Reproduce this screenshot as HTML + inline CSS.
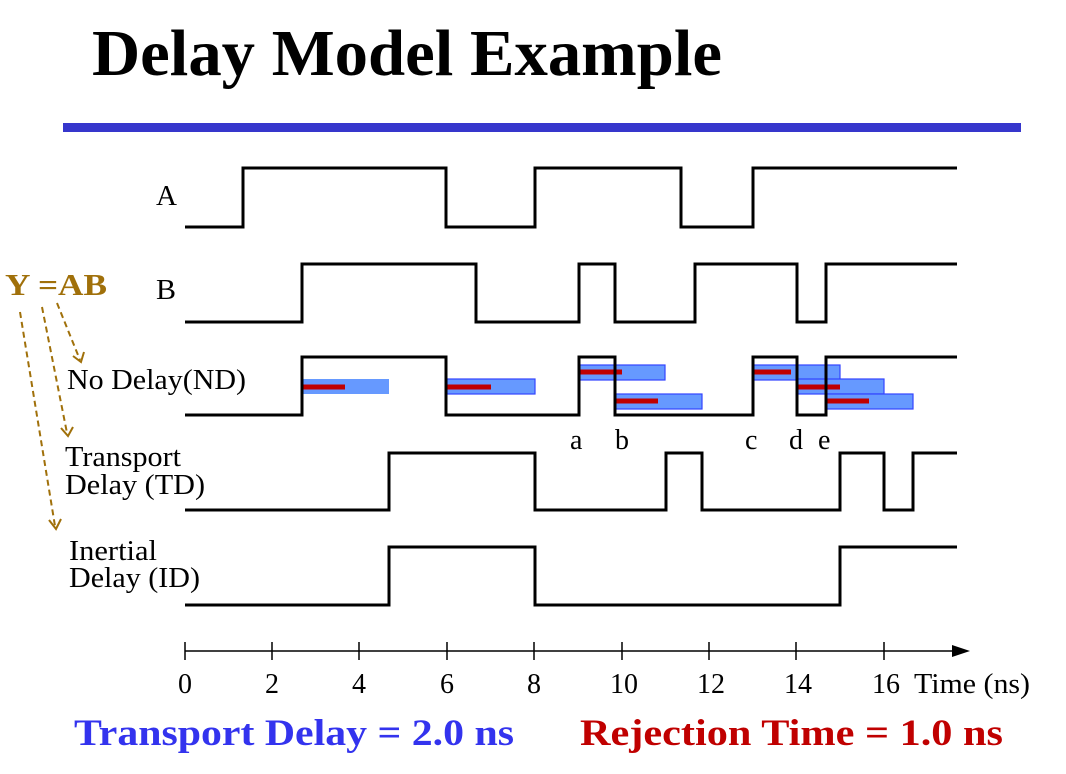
<!DOCTYPE html>
<html><head><meta charset="utf-8"><style>body{margin:0;background:#fff}svg{display:block}</style></head><body>
<svg width="1066" height="774" viewBox="0 0 1066 774" xmlns="http://www.w3.org/2000/svg" font-family="'Liberation Serif', serif">
<text x="92" y="75" font-size="66" font-weight="bold" textLength="630" lengthAdjust="spacingAndGlyphs">Delay Model Example</text>
<rect x="63" y="123" width="958" height="9" fill="#3636cc"/>
<g fill="#6699ff" stroke="#3344ff" stroke-width="1.2">
<rect x="302" y="379" width="87" height="15" stroke="none"/>
<rect x="447" y="379" width="88" height="15"/>
<rect x="579" y="365" width="86" height="15"/>
<rect x="615" y="394" width="87" height="15"/>
<rect x="753" y="365" width="87" height="15"/>
<rect x="797" y="379" width="87" height="15"/>
<rect x="826" y="394" width="87" height="15"/>
</g>
<g stroke="#c00000" stroke-width="5">
<line x1="302" y1="387" x2="345" y2="387"/>
<line x1="447" y1="387" x2="491" y2="387"/>
<line x1="579" y1="372" x2="622" y2="372"/>
<line x1="615" y1="401" x2="658" y2="401"/>
<line x1="753" y1="372" x2="791" y2="372"/>
<line x1="797" y1="387" x2="840" y2="387"/>
<line x1="826" y1="401" x2="869" y2="401"/>
</g>
<g fill="none" stroke="#000" stroke-width="3">
<polyline points="185,227 243,227 243,168 446,168 446,227 535,227 535,168 681,168 681,227 753,227 753,168 957,168"/>
<polyline points="185,322 302,322 302,264 476,264 476,322 579,322 579,264 615,264 615,322 695,322 695,264 797,264 797,322 826,322 826,264 957,264"/>
<polyline points="185,415 302,415 302,357 446,357 446,415 579,415 579,357 615,357 615,415 753,415 753,357 797,357 797,415 826,415 826,357 957,357"/>
<polyline points="185,510 389,510 389,453 535,453 535,510 666,510 666,453 702,453 702,510 840,510 840,453 884,453 884,510 913,510 913,453 957,453"/>
<polyline points="185,605 389,605 389,547 535,547 535,605 840,605 840,547 957,547"/>
</g>
<g stroke="#000" stroke-width="1.5">
<line x1="185" y1="651" x2="960" y2="651"/>
<line x1="185" y1="642" x2="185" y2="660"/><line x1="272" y1="642" x2="272" y2="660"/><line x1="359" y1="642" x2="359" y2="660"/><line x1="447" y1="642" x2="447" y2="660"/><line x1="534" y1="642" x2="534" y2="660"/><line x1="622" y1="642" x2="622" y2="660"/><line x1="709" y1="642" x2="709" y2="660"/><line x1="796" y1="642" x2="796" y2="660"/><line x1="884" y1="642" x2="884" y2="660"/>
</g>
<polygon points="970,651 952,645 952,657" fill="#000"/>
<g font-size="28" fill="#000">
<text x="156" y="205" textLength="21" lengthAdjust="spacingAndGlyphs">A</text><text x="156" y="299" textLength="20" lengthAdjust="spacingAndGlyphs">B</text>
<text x="67" y="389" textLength="179" lengthAdjust="spacingAndGlyphs">No Delay(ND)</text>
<text x="65" y="466" textLength="116" lengthAdjust="spacingAndGlyphs">Transport</text><text x="65" y="494" textLength="140" lengthAdjust="spacingAndGlyphs">Delay (TD)</text>
<text x="69" y="560" textLength="88" lengthAdjust="spacingAndGlyphs">Inertial</text><text x="69" y="587" textLength="131" lengthAdjust="spacingAndGlyphs">Delay (ID)</text>
<text x="570" y="449">a</text><text x="615" y="449">b</text><text x="745" y="449">c</text><text x="789" y="449">d</text><text x="818" y="449">e</text>
<g text-anchor="middle"><text x="185" y="693">0</text><text x="272" y="693">2</text><text x="359" y="693">4</text><text x="447" y="693">6</text><text x="534" y="693">8</text><text x="624" y="693">10</text><text x="711" y="693">12</text><text x="798" y="693">14</text><text x="886" y="693">16</text></g>
<text x="914" y="693" textLength="116" lengthAdjust="spacingAndGlyphs">Time (ns)</text>
</g>
<text x="5" y="295" font-size="31" font-weight="bold" fill="#a0700a" textLength="102" lengthAdjust="spacingAndGlyphs">Y =AB</text>
<g stroke="#a0700a" stroke-width="2" stroke-dasharray="6,4" fill="none">
<line x1="57" y1="303" x2="80" y2="360"/>
<line x1="42" y1="307" x2="67" y2="433"/>
<line x1="20" y1="312" x2="55" y2="526"/>
</g>
<g stroke="#a0700a" stroke-width="2" fill="none">
<polyline points="73,356 81,362 84,352"/>
<polyline points="61,428 68,436 73,427"/>
<polyline points="49,520 56,529 61,519"/>
</g>
<text x="74" y="745" font-size="37" font-weight="bold" fill="#3333ee" textLength="440" lengthAdjust="spacingAndGlyphs">Transport Delay = 2.0 ns</text>
<text x="580" y="745" font-size="37" font-weight="bold" fill="#c00000" textLength="423" lengthAdjust="spacingAndGlyphs">Rejection Time = 1.0 ns</text>
</svg>
</body></html>
